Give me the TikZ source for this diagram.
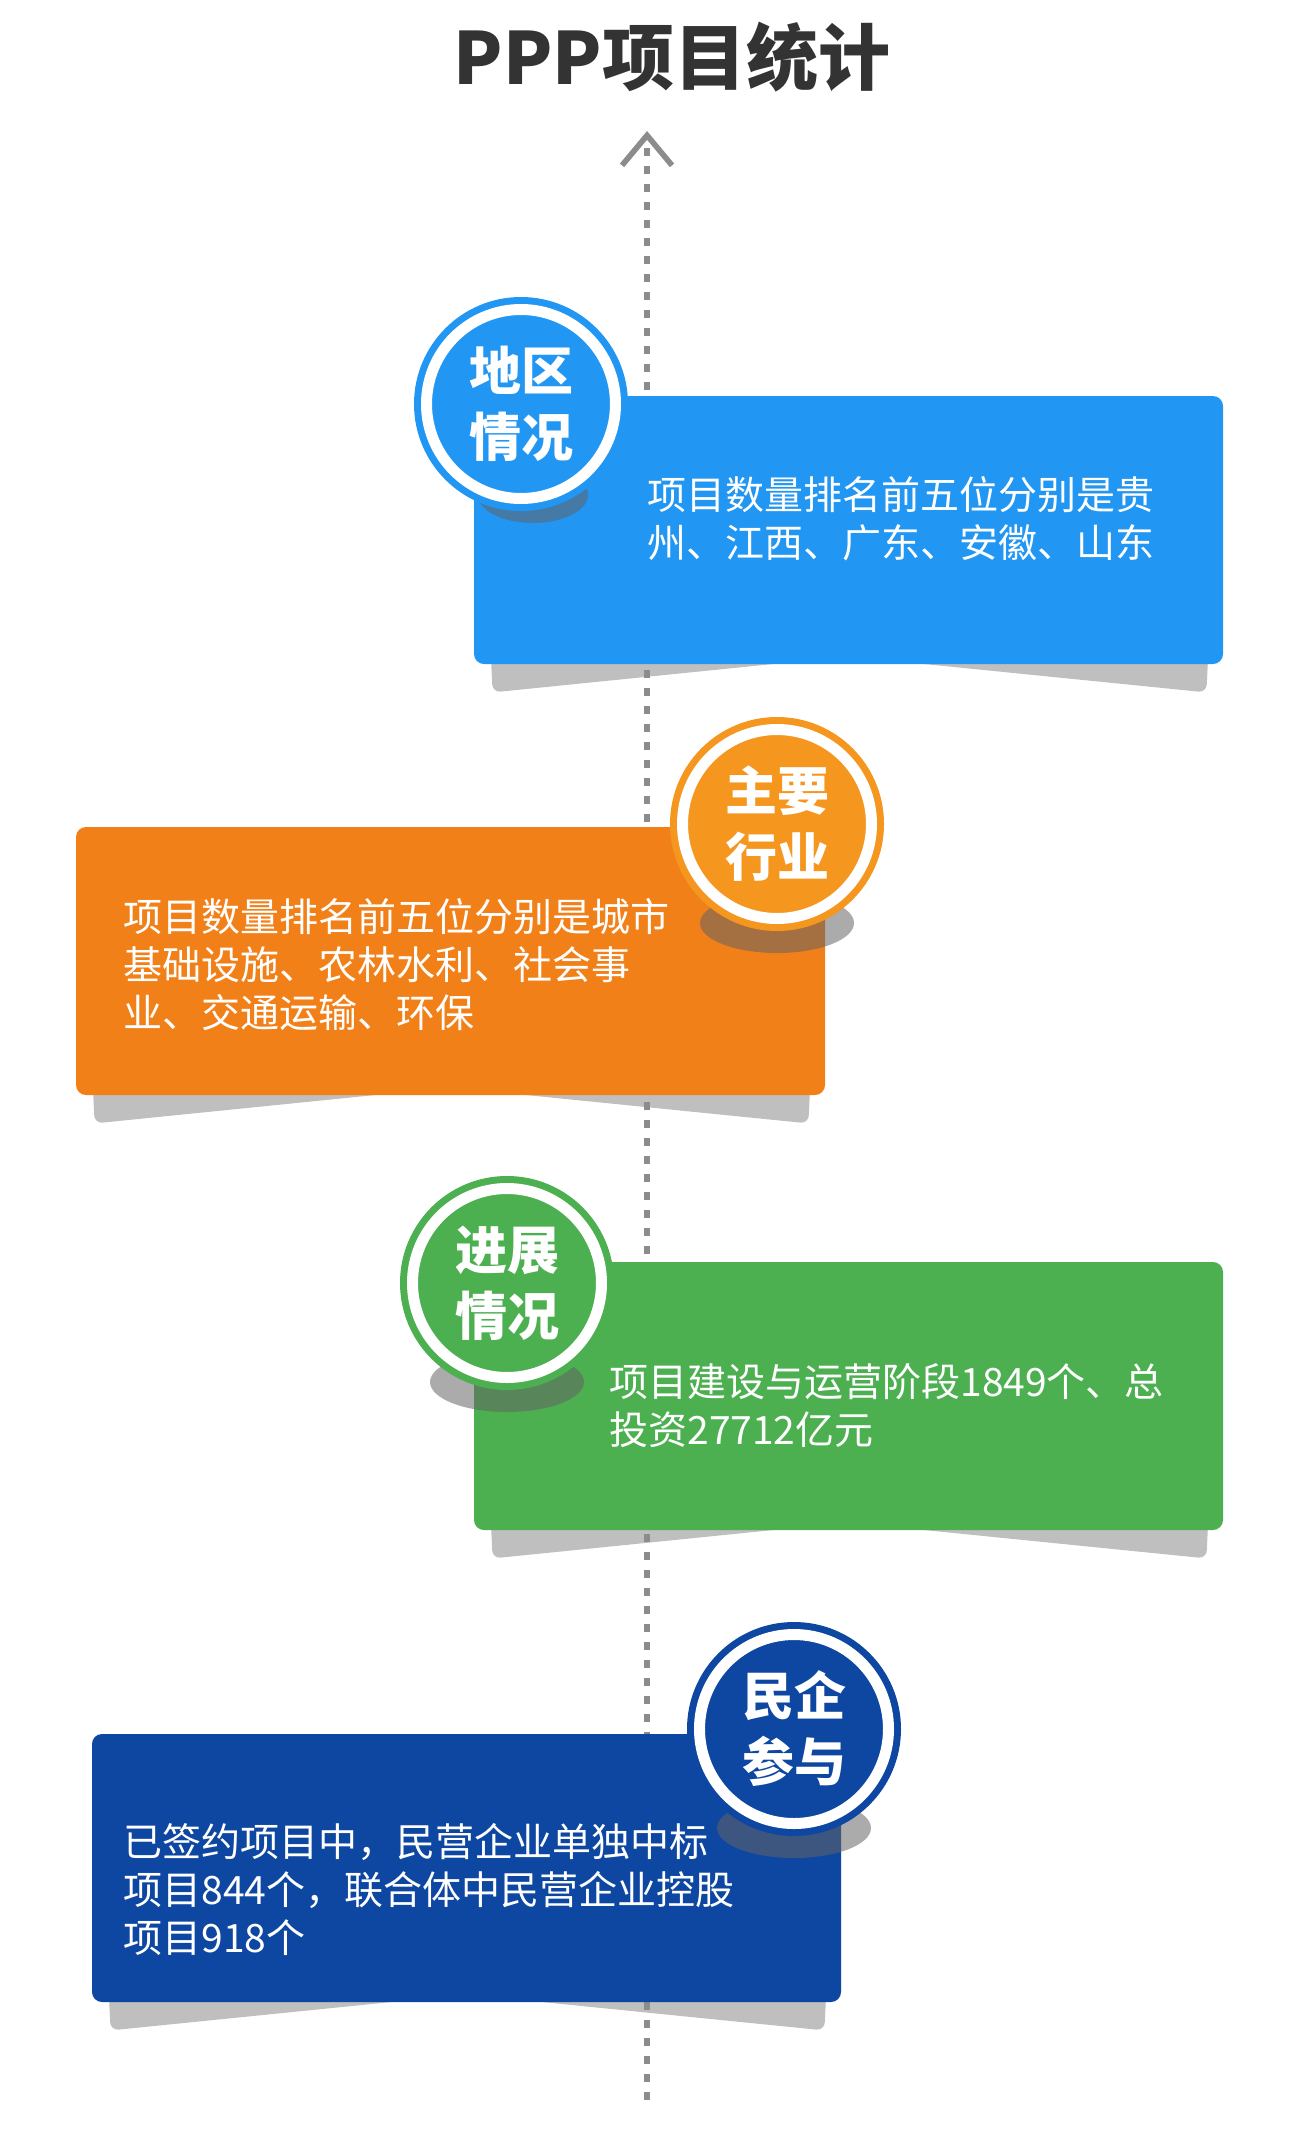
\documentclass[tikz,border=0pt]{standalone}
\usepackage{fontspec}
\setmainfont{Noto Sans CJK SC}
\usetikzlibrary{arrows.meta, backgrounds}

\definecolor{blueA}{HTML}{2196F3}
\definecolor{orangeA}{HTML}{F28019}
\definecolor{orangeB}{HTML}{F5961F}
\definecolor{greenA}{HTML}{4CAF50}
\definecolor{navyA}{HTML}{0E47A1}
\definecolor{foldgray}{HTML}{BFBFBF}
\definecolor{axisgray}{HTML}{8C8C8C}
\definecolor{titlegray}{HTML}{333333}
\definecolor{spotgray}{HTML}{636363}

\begin{document}
\begin{tikzpicture}[x=0.5pt, y=-0.5pt,
    >={Straight Barb[length=15pt, width=25pt]},
    card/.style={rectangle, rounded corners=5pt, minimum width=374.5pt, minimum height=134pt, inner sep=0pt},
    badge/.style={circle, inner sep=0pt, minimum size=94.5pt, line width=3.5pt, double=white, double distance=5.5pt,
        text=white, align=center, font=\bfseries\fontsize{26}{33}\selectfont},
    body/.style={anchor=west, text=white, align=left, inner sep=0pt, font=\fontsize{19.5}{24}\selectfont},
    fold/.style={fill=foldgray, rounded corners=4pt},
    spot/.style={fill=spotgray, opacity=0.54}]

\useasboundingbox (0,0) rectangle (1299,2147);

% title
\node[font=\bfseries\fontsize{36}{40}\selectfont, text=titlegray] (title) at (672,57) {PPP项目统计};

% cards
\node[card, fill=blueA] (card1) at (848.5,530) {};
\node[card, fill=orangeA] (card2) at (450.5,961) {};
\node[card, fill=greenA] (card3) at (848.5,1396) {};
\node[card, fill=navyA] (card4) at (466.5,1868) {};

% folded shadows and time axis, behind the cards
\begin{scope}[on background layer]
\foreach \c in {card1,card2,card3,card4}
  \fill[fold] ([xshift=8.5pt,yshift=7pt]\c.south west) -- ([xshift=9.5pt,yshift=-14pt]\c.south west)
    -- ([yshift=4pt]\c.south) -- ([xshift=-8.5pt,yshift=-14pt]\c.south east)
    -- ([xshift=-7.5pt,yshift=7pt]\c.south east) -- cycle;
\coordinate (axisbot) at (647,2100);
\coordinate (axistop) at (647,131);
\draw[->, axisgray, line width=2.8pt, dash pattern=on 4pt off 5pt] (axisbot) -- (axistop);
\end{scope}

% badge centres
\coordinate (c1) at (521,404);
\coordinate (c2) at (777,824);
\coordinate (c3) at (507,1283);
\coordinate (c4) at (794,1729);

% badge shadows
\fill[spot] ([xshift=6pt,yshift=-45.5pt]c1) ellipse (27.5pt and 14pt);
\foreach \c in {c2,c3,c4}
  \fill[spot] ([yshift=-49.5pt]\c) ellipse (38.5pt and 15pt);

% badges
\node[badge, draw=blueA, fill=blueA] (badge1) at (c1) {地区\\情况};
\node[badge, draw=orangeB, fill=orangeB] (badge2) at (c2) {主要\\行业};
\node[badge, draw=greenA, fill=greenA] (badge3) at (c3) {进展\\情况};
\node[badge, draw=navyA, fill=navyA] (badge4) at (c4) {民企\\参与};

% card texts
\node[body] (text1) at (647,519) {项目数量排名前五位分别是贵\\州、江西、广东、安徽、山东};
\node[body] (text2) at (123,965) {项目数量排名前五位分别是城市\\基础设施、农林水利、社会事\\业、交通运输、环保};
\node[body] (text3) at (609,1406) {项目建设与运营阶段1849个、总\\投资27712亿元};
\node[body] (text4) at (123,1889) {已签约项目中，民营企业单独中标\\项目844个，联合体中民营企业控股\\项目918个};
\end{tikzpicture}
\end{document}
